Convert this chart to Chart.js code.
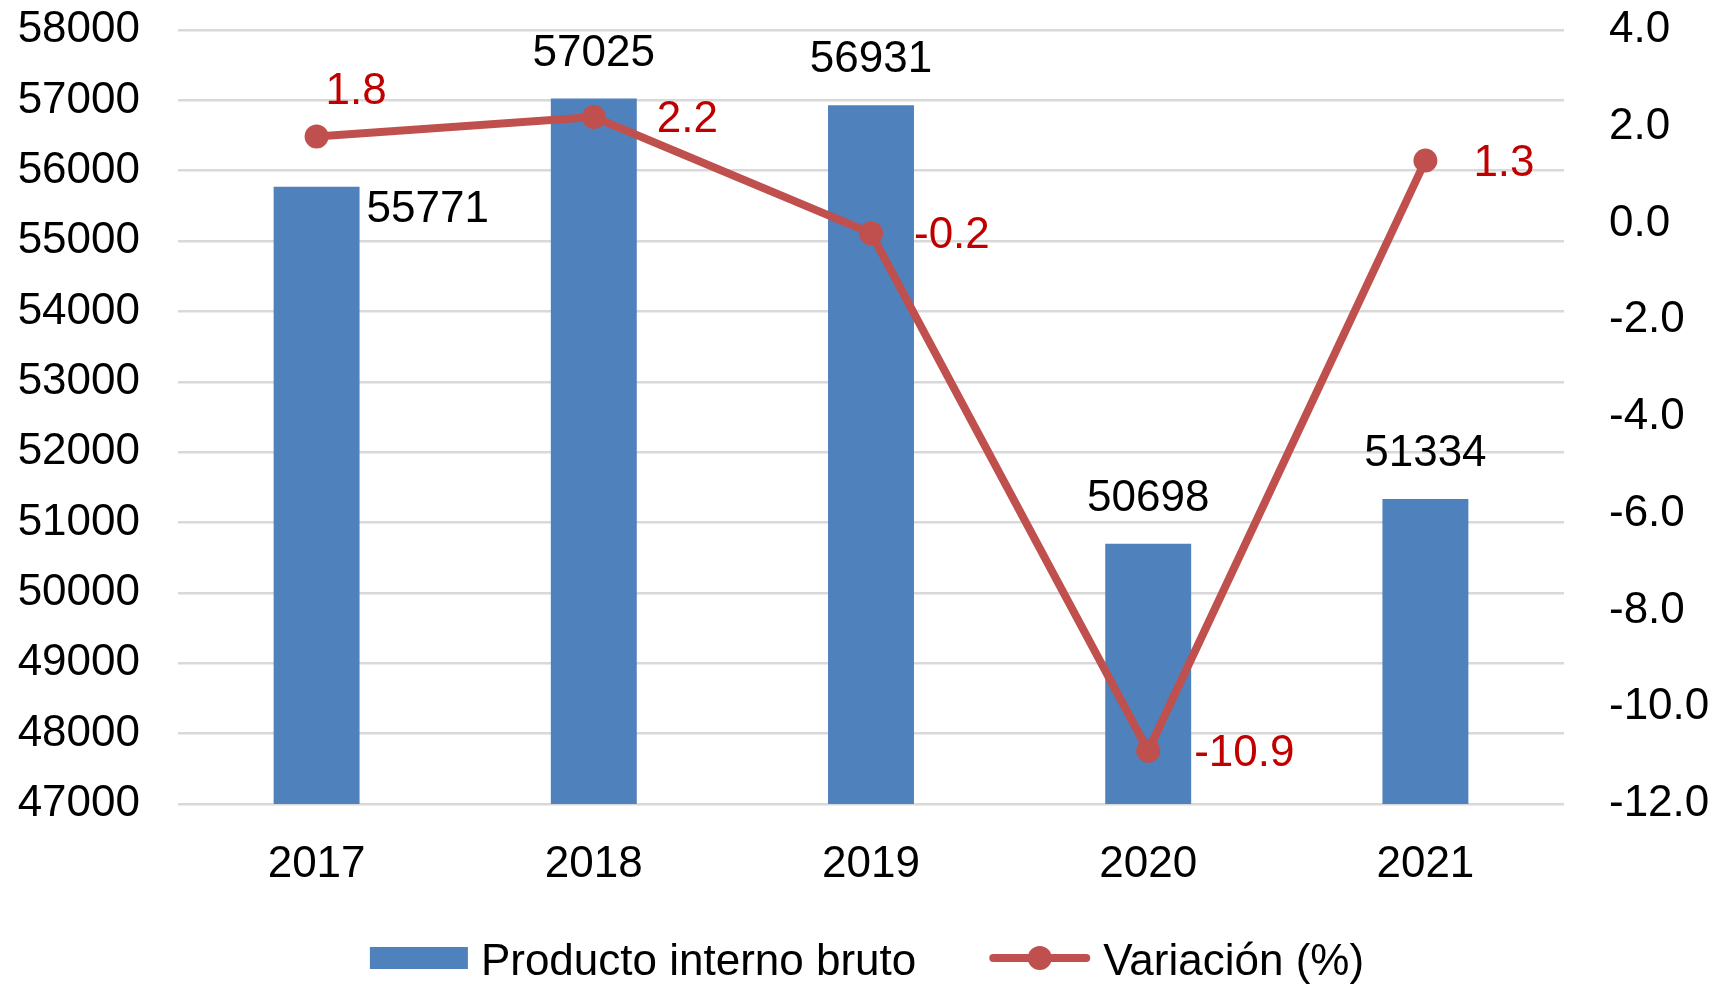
<!DOCTYPE html>
<html>
<head>
<meta charset="utf-8">
<script src="https://cdn.jsdelivr.net/npm/chart.js@4.4.1/dist/chart.umd.min.js"></script>
<style>
  html, body { margin: 0; padding: 0; background: #fff; }
  canvas { display: block; }
</style>
</head>
<body>
<canvas id="pibChart" width="1719" height="987"></canvas>
<script>
const years = ['2017', '2018', '2019', '2020', '2021'];
const pib = [55771, 57025, 56931, 50698, 51334];
const variacion = [1.8, 2.2, -0.2, -10.9, 1.3];
const pibTicks = [47000, 48000, 49000, 50000, 51000, 52000, 53000, 54000, 55000, 56000, 57000, 58000];
const varTicks = [-12, -10, -8, -6, -4, -2, 0, 2, 4];

// where each value label sits (style only)
const barLabelSide = ['right', 'top', 'top', 'top', 'top'];
const lineLabelSide = ['top', 'right', 'right', 'right', 'right'];
const lineLabelGap = [9, 63, 43, 46, 48];

const FONT = "'Liberation Sans', Arial, sans-serif";
const BLUE = '#4F81BD';
const RED = '#C0504D';

Chart.defaults.font.family = FONT;
Chart.defaults.font.size = 44;
Chart.defaults.color = '#000';

const valueLabels = {
  id: 'valueLabels',
  afterDatasetsDraw(chart) {
    const ctx = chart.ctx;
    ctx.save();
    ctx.font = '44px ' + FONT;
    ctx.textBaseline = 'middle';
    ctx.fillStyle = '#000';
    chart.getDatasetMeta(0).data.forEach((bar, i) => {
      if (barLabelSide[i] === 'right') {
        ctx.textAlign = 'left';
        ctx.fillText(String(pib[i]), bar.x + bar.width / 2 + 7, bar.y + 23);
      } else {
        ctx.textAlign = 'center';
        ctx.fillText(String(pib[i]), bar.x, bar.y - 45);
      }
    });
    ctx.fillStyle = '#C00000';
    ctx.textAlign = 'left';
    chart.getDatasetMeta(1).data.forEach((pt, i) => {
      const txt = variacion[i].toFixed(1);
      if (lineLabelSide[i] === 'top') {
        ctx.fillText(txt, pt.x + lineLabelGap[i], pt.y - 45);
      } else {
        ctx.fillText(txt, pt.x + lineLabelGap[i], pt.y + 3);
      }
    });
    ctx.restore();
  }
};

// legend drawn under the axis: bar swatch, then line-with-marker swatch
const bottomLegend = {
  id: 'bottomLegend',
  afterDraw(chart) {
    const ctx = chart.ctx;
    const area = chart.chartArea;
    const ds = chart.data.datasets;
    ctx.save();
    ctx.font = '44px ' + FONT;
    ctx.textBaseline = 'middle';
    ctx.textAlign = 'left';
    const t1 = ctx.measureText(ds[0].label).width;
    const t2 = ctx.measureText(ds[1].label).width;
    const sw1 = 98, sw2 = 101, gapTxt = 13, gapItem = 73;
    const total = sw1 + gapTxt + t1 + gapItem + sw2 + gapTxt + t2;
    let x = (area.left + area.right) / 2 - total / 2 - 4;
    const y = area.bottom + 159;

    ctx.fillStyle = BLUE;
    ctx.fillRect(x, y - 16, sw1, 22);
    x += sw1 + gapTxt;
    ctx.fillStyle = '#000';
    ctx.fillText(ds[0].label, x, y);
    x += t1 + gapItem;

    ctx.strokeStyle = RED;
    ctx.lineWidth = 8;
    ctx.lineCap = 'round';
    ctx.beginPath();
    ctx.moveTo(x + 4, y - 5);
    ctx.lineTo(x + sw2 - 4, y - 5);
    ctx.stroke();
    ctx.fillStyle = RED;
    ctx.beginPath();
    ctx.arc(x + sw2 / 2, y - 5, 12, 0, Math.PI * 2);
    ctx.fill();
    x += sw2 + gapTxt;
    ctx.fillStyle = '#000';
    ctx.fillText(ds[1].label, x, y);
    ctx.restore();
  }
};

const noEdgePadding = s => { s.paddingTop = 0; s.paddingBottom = 0; };

new Chart(document.getElementById('pibChart'), {
  data: {
    labels: years,
    datasets: [
      {
        type: 'bar',
        label: 'Producto interno bruto',
        data: pib,
        backgroundColor: BLUE,
        yAxisID: 'y',
        barPercentage: 0.31,
        categoryPercentage: 1,
        order: 2
      },
      {
        type: 'line',
        label: 'Variación (%)',
        data: variacion,
        borderColor: RED,
        backgroundColor: RED,
        borderWidth: 8,
        pointRadius: 12,
        pointBorderWidth: 0,
        pointBackgroundColor: RED,
        tension: 0,
        yAxisID: 'y1',
        order: 1
      }
    ]
  },
  options: {
    responsive: false,
    devicePixelRatio: 1,
    animation: false,
    layout: { padding: { top: 30, bottom: 93, left: 0, right: 0 } },
    plugins: {
      tooltip: { enabled: false },
      legend: { display: false }
    },
    scales: {
      x: {
        grid: { display: false, drawTicks: false },
        border: { display: false },
        ticks: { padding: 34, font: { size: 44 }, color: '#000' },
        afterFit: s => { s.height = 90; }
      },
      y: {
        position: 'left',
        min: pibTicks[0],
        max: pibTicks[pibTicks.length - 1],
        afterBuildTicks: s => { s.ticks = pibTicks.map(v => ({ value: v })); },
        grid: { color: '#D9D9D9', lineWidth: 2.5, drawTicks: false },
        border: { display: false },
        ticks: { padding: 38, callback: v => String(v) },
        afterFit: s => { s.width = 178; noEdgePadding(s); }
      },
      y1: {
        position: 'right',
        min: varTicks[0],
        max: varTicks[varTicks.length - 1],
        afterBuildTicks: s => { s.ticks = varTicks.map(v => ({ value: v })); },
        grid: { display: false, drawTicks: false },
        border: { display: false },
        ticks: { padding: 45, callback: v => Number(v).toFixed(1) },
        afterFit: s => { s.width = 155; noEdgePadding(s); }
      }
    }
  },
  plugins: [valueLabels, bottomLegend]
});
</script>
</body>
</html>
